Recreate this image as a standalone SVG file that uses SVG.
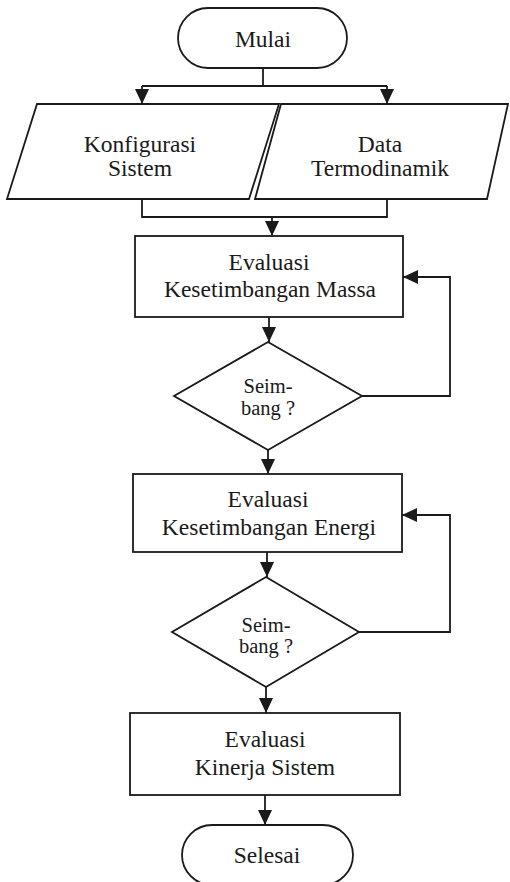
<svg xmlns="http://www.w3.org/2000/svg" width="510" height="882" viewBox="0 0 510 882">
<style>
.shape{fill:#fff;stroke:#1a1a1a;stroke-width:1.8}
.t{font-family:"Liberation Serif","Times New Roman",serif;font-size:23.5px;fill:#1a1a1a;text-anchor:middle}
.s{font-family:"Liberation Serif","Times New Roman",serif;font-size:20.5px;fill:#1a1a1a;text-anchor:middle}
.c{fill:none;stroke:#1a1a1a;stroke-width:1.8}
</style>
<defs>
<marker id="ah" viewBox="0 0 15 14" markerWidth="15" markerHeight="14" refX="15" refY="7" orient="auto" markerUnits="userSpaceOnUse">
<path d="M0,0 L15,7 L0,14 z" fill="#1a1a1a"/>
</marker>
</defs>
<rect width="510" height="882" fill="#fff"/>
<g id="connectors">
<path class="c" d="M263,68 V86 M142,86 H387"/>
<path class="c" d="M142,86 V104" marker-end="url(#ah)"/>
<path class="c" d="M387,86 V104" marker-end="url(#ah)"/>
<path class="c" d="M142,199 V217 H387 V199"/>
<path class="c" d="M272,217 V236" marker-end="url(#ah)"/>
<path class="c" d="M269,317 V342" marker-end="url(#ah)"/>
<path class="c" d="M362,396 H450 V277 H403" marker-end="url(#ah)"/>
<path class="c" d="M268,450 V474" marker-end="url(#ah)"/>
<path class="c" d="M267,552 V577" marker-end="url(#ah)"/>
<path class="c" d="M359,632 H450 V515 H402" marker-end="url(#ah)"/>
<path class="c" d="M266,687 V713" marker-end="url(#ah)"/>
<path class="c" d="M265,795 V825" marker-end="url(#ah)"/>
</g>
<g id="mulai">
<rect class="shape" x="178" y="8" width="169" height="60" rx="30"/>
<text class="t" x="263" y="47">Mulai</text>
</g>
<g id="konfigurasi">
<polygon class="shape" points="37,104 279,104 249,199 7,199"/>
<text class="t" x="140" y="152">Konfigurasi</text>
<text class="t" x="140" y="176">Sistem</text>
</g>
<g id="data">
<polygon class="shape" points="281,104 508,104 487,199 255,199"/>
<text class="t" x="380" y="152">Data</text>
<text class="t" x="380" y="176">Termodinamik</text>
</g>
<g id="massa">
<rect class="shape" x="135" y="236" width="268" height="81"/>
<text class="t" x="269" y="270">Evaluasi</text>
<text class="t" x="270" y="297">Kesetimbangan Massa</text>
</g>
<g id="cek1">
<polygon class="shape" points="268,342 362,396 268,450 174,396"/>
<text class="s" x="268" y="393">Seim-</text>
<text class="s" x="268" y="415">bang ?</text>
</g>
<g id="energi">
<rect class="shape" x="133" y="474" width="269" height="78"/>
<text class="t" x="268" y="507">Evaluasi</text>
<text class="t" x="269" y="535">Kesetimbangan Energi</text>
</g>
<g id="cek2">
<polygon class="shape" points="266,577 359,632 266,687 172,632"/>
<text class="s" x="266" y="632">Seim-</text>
<text class="s" x="266" y="653">bang ?</text>
</g>
<g id="kinerja">
<rect class="shape" x="130" y="713" width="270" height="82"/>
<text class="t" x="265" y="747">Evaluasi</text>
<text class="t" x="265" y="775">Kinerja Sistem</text>
</g>
<g id="selesai">
<rect class="shape" x="182" y="825" width="171" height="60" rx="30"/>
<text class="t" x="267" y="863">Selesai</text>
</g>
</svg>
